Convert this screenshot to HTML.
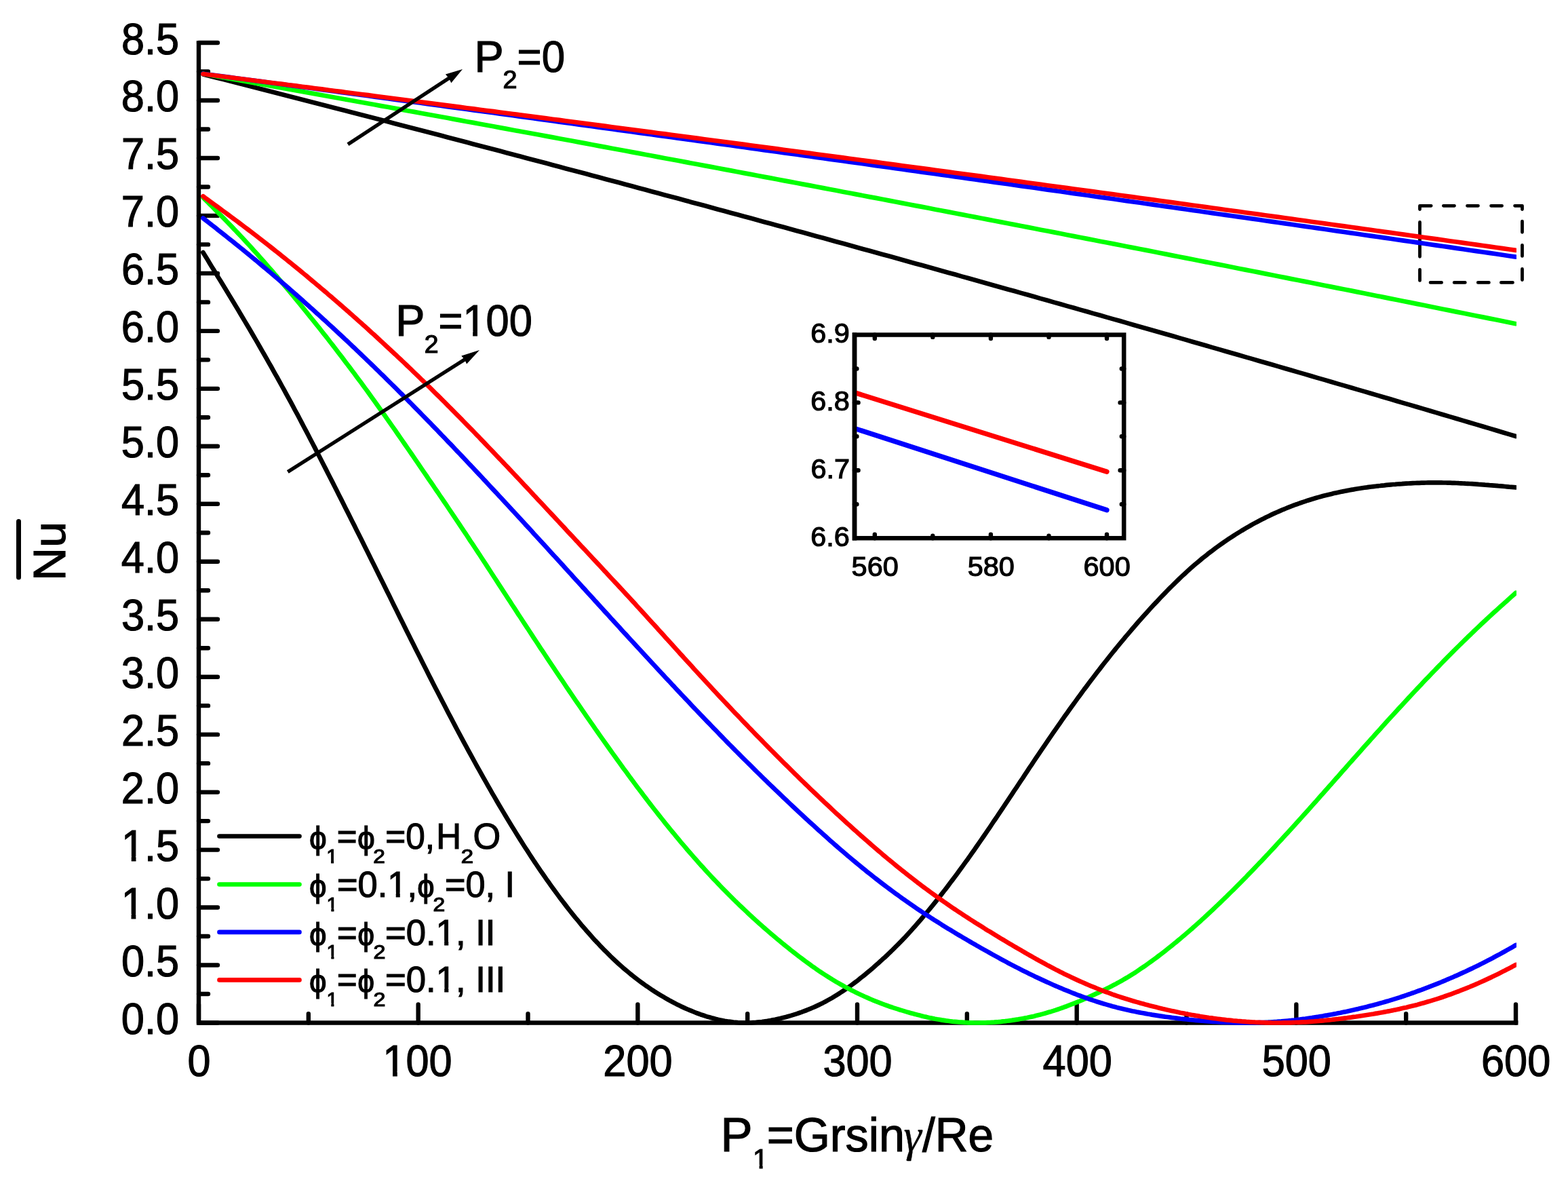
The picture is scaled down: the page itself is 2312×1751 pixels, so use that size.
<!DOCTYPE html>
<html><head><meta charset="utf-8"><title>Nu vs P1</title>
<style>html,body{margin:0;padding:0;background:#fff;overflow:hidden}svg{display:block}text{font-kerning:none}</style></head>
<body><svg width="2312" height="1751" viewBox="0 0 2312 1751">
<rect x="0" y="0" width="2312" height="1751" fill="#fff"/>
<path d="M293.0 1507.50H321 M293.0 1422.53H321 M293.0 1337.56H321 M293.0 1252.59H321 M293.0 1167.62H321 M293.0 1082.65H321 M293.0 997.68H321 M293.0 912.71H321 M293.0 827.74H321 M293.0 742.77H321 M293.0 657.80H321 M293.0 572.83H321 M293.0 487.86H321 M293.0 402.89H321 M293.0 317.92H321 M293.0 232.95H321 M293.0 147.98H321 M293.0 63.01H321 M293.0 1465.02H307 M293.0 1380.05H307 M293.0 1295.08H307 M293.0 1210.11H307 M293.0 1125.13H307 M293.0 1040.16H307 M293.0 955.20H307 M293.0 870.23H307 M293.0 785.25H307 M293.0 700.28H307 M293.0 615.32H307 M293.0 530.35H307 M293.0 445.38H307 M293.0 360.40H307 M293.0 275.43H307 M293.0 190.46H307 M293.0 105.50H307 M293.00 1507.5V1480.4 M616.67 1507.5V1480.4 M940.34 1507.5V1480.4 M1264.01 1507.5V1480.4 M1587.68 1507.5V1480.4 M1911.35 1507.5V1480.4 M2235.02 1507.5V1480.4 M454.84 1507.5V1494.3 M778.50 1507.5V1494.3 M1102.17 1507.5V1494.3 M1425.85 1507.5V1494.3 M1749.51 1507.5V1494.3 M2073.18 1507.5V1494.3" stroke="#000" stroke-width="6.4" stroke-linecap="round" fill="none"/>
<path d="M293.0 63.2V1507.5H2235.22" stroke="#000" stroke-width="6.4" stroke-linecap="square" stroke-linejoin="miter" fill="none"/>
<text transform="translate(178.81,1524.00) scale(0.9472,1)" font-family="'Liberation Sans', Arial, sans-serif" font-size="64.69" stroke="#000" stroke-width="1.2">0.0</text>
<text transform="translate(178.99,1439.03) scale(0.9472,1)" font-family="'Liberation Sans', Arial, sans-serif" font-size="64.69" stroke="#000" stroke-width="1.2">0.5</text>
<clipPath id="c1f1" clipPathUnits="userSpaceOnUse"><path clip-rule="evenodd" d="M-50 -200H139.9V60H-50Z M1.42 -7.03H15.57V4H1.42Z M22.68 -7.03H36.32V4H22.68Z"/></clipPath>
<text transform="translate(178.82,1354.06) scale(0.9472,1)" font-family="'Liberation Sans', Arial, sans-serif" font-size="64.69" stroke="#000" stroke-width="1.2" clip-path="url(#c1f1)">1.0</text>
<clipPath id="c1f2" clipPathUnits="userSpaceOnUse"><path clip-rule="evenodd" d="M-50 -200H139.9V60H-50Z M1.42 -7.03H15.57V4H1.42Z M22.68 -7.03H36.32V4H22.68Z"/></clipPath>
<text transform="translate(179.00,1269.09) scale(0.9472,1)" font-family="'Liberation Sans', Arial, sans-serif" font-size="64.69" stroke="#000" stroke-width="1.2" clip-path="url(#c1f2)">1.5</text>
<text transform="translate(178.81,1184.12) scale(0.9472,1)" font-family="'Liberation Sans', Arial, sans-serif" font-size="64.69" stroke="#000" stroke-width="1.2">2.0</text>
<text transform="translate(178.99,1099.15) scale(0.9472,1)" font-family="'Liberation Sans', Arial, sans-serif" font-size="64.69" stroke="#000" stroke-width="1.2">2.5</text>
<text transform="translate(178.81,1014.18) scale(0.9472,1)" font-family="'Liberation Sans', Arial, sans-serif" font-size="64.69" stroke="#000" stroke-width="1.2">3.0</text>
<text transform="translate(178.99,929.21) scale(0.9472,1)" font-family="'Liberation Sans', Arial, sans-serif" font-size="64.69" stroke="#000" stroke-width="1.2">3.5</text>
<text transform="translate(178.81,844.24) scale(0.9472,1)" font-family="'Liberation Sans', Arial, sans-serif" font-size="64.69" stroke="#000" stroke-width="1.2">4.0</text>
<text transform="translate(178.99,759.27) scale(0.9472,1)" font-family="'Liberation Sans', Arial, sans-serif" font-size="64.69" stroke="#000" stroke-width="1.2">4.5</text>
<text transform="translate(178.81,674.30) scale(0.9472,1)" font-family="'Liberation Sans', Arial, sans-serif" font-size="64.69" stroke="#000" stroke-width="1.2">5.0</text>
<text transform="translate(178.99,589.33) scale(0.9472,1)" font-family="'Liberation Sans', Arial, sans-serif" font-size="64.69" stroke="#000" stroke-width="1.2">5.5</text>
<text transform="translate(178.81,504.36) scale(0.9472,1)" font-family="'Liberation Sans', Arial, sans-serif" font-size="64.69" stroke="#000" stroke-width="1.2">6.0</text>
<text transform="translate(178.99,419.39) scale(0.9472,1)" font-family="'Liberation Sans', Arial, sans-serif" font-size="64.69" stroke="#000" stroke-width="1.2">6.5</text>
<text transform="translate(178.81,334.42) scale(0.9472,1)" font-family="'Liberation Sans', Arial, sans-serif" font-size="64.69" stroke="#000" stroke-width="1.2">7.0</text>
<text transform="translate(178.99,249.45) scale(0.9472,1)" font-family="'Liberation Sans', Arial, sans-serif" font-size="64.69" stroke="#000" stroke-width="1.2">7.5</text>
<text transform="translate(178.81,164.48) scale(0.9472,1)" font-family="'Liberation Sans', Arial, sans-serif" font-size="64.69" stroke="#000" stroke-width="1.2">8.0</text>
<text transform="translate(178.99,79.51) scale(0.9472,1)" font-family="'Liberation Sans', Arial, sans-serif" font-size="64.69" stroke="#000" stroke-width="1.2">8.5</text>
<text transform="translate(276.48,1585.70) scale(0.9459,1)" font-family="'Liberation Sans', Arial, sans-serif" font-size="64.69" stroke="#000" stroke-width="1.2">0</text>
<clipPath id="c1f3" clipPathUnits="userSpaceOnUse"><path clip-rule="evenodd" d="M-50 -200H157.9V60H-50Z M1.42 -7.03H15.57V4H1.42Z M22.68 -7.03H36.32V4H22.68Z"/></clipPath>
<text transform="translate(564.30,1585.70) scale(0.9473,1)" font-family="'Liberation Sans', Arial, sans-serif" font-size="64.69" stroke="#000" stroke-width="1.2" clip-path="url(#c1f3)">100</text>
<text transform="translate(889.37,1585.70) scale(0.9473,1)" font-family="'Liberation Sans', Arial, sans-serif" font-size="64.69" stroke="#000" stroke-width="1.2">200</text>
<text transform="translate(1213.42,1585.70) scale(0.9473,1)" font-family="'Liberation Sans', Arial, sans-serif" font-size="64.69" stroke="#000" stroke-width="1.2">300</text>
<text transform="translate(1537.55,1585.70) scale(0.9473,1)" font-family="'Liberation Sans', Arial, sans-serif" font-size="64.69" stroke="#000" stroke-width="1.2">400</text>
<text transform="translate(1860.70,1585.70) scale(0.9473,1)" font-family="'Liberation Sans', Arial, sans-serif" font-size="64.69" stroke="#000" stroke-width="1.2">500</text>
<text transform="translate(2184.04,1585.70) scale(0.9473,1)" font-family="'Liberation Sans', Arial, sans-serif" font-size="64.69" stroke="#000" stroke-width="1.2">600</text>
<path d="M2093.5 308.5V303.3H2110.2 M2233.6 303.3H2244.5V308.5 M2128.4 303.3H2144.5 M2163.5 303.3H2179.5 M2198.6 303.3H2214.6 M2244.5 326.2V342.3 M2244.5 361.3V377.4 M2244.5 396.4V412.5 M2109.1 416.4H2125.6 M2144.2 416.4H2160.3 M2179.3 416.4H2195.4 M2213.4 416.4H2230.5 M2093.5 397.3V413.4 M2093.5 327.5V378.3" stroke="#000" stroke-width="4.8" stroke-linecap="round" stroke-linejoin="round" fill="none"/>
<defs><clipPath id="pc"><rect x="0" y="0" width="2236" height="1751"/></clipPath></defs>
<g clip-path="url(#pc)" fill="none" stroke-width="6.7" stroke-linecap="round" stroke-linejoin="round">
<polyline points="299.5,109.4 309.2,111.9 319.0,114.4 328.7,116.8 338.4,119.3 348.1,121.8 357.9,124.3 367.6,126.8 377.3,129.2 387.0,131.7 396.8,134.2 406.5,136.7 416.2,139.2 425.9,141.7 435.7,144.2 445.4,146.7 455.1,149.2 464.8,151.7 474.6,154.2 484.3,156.7 494.0,159.2 503.8,161.7 513.5,164.2 523.2,166.7 532.9,169.3 542.7,171.8 552.4,174.3 562.1,176.8 571.8,179.3 581.6,181.9 591.3,184.4 601.0,186.9 610.7,189.5 620.5,192.0 630.2,194.5 639.9,197.1 649.6,199.6 659.4,202.2 669.1,204.7 678.8,207.3 688.5,209.8 698.3,212.4 708.0,214.9 717.7,217.5 727.5,220.1 737.2,222.6 746.9,225.2 756.6,227.8 766.4,230.3 776.1,232.9 785.8,235.5 795.5,238.0 805.3,240.6 815.0,243.2 824.7,245.8 834.4,248.4 844.2,250.9 853.9,253.5 863.6,256.1 873.3,258.7 883.1,261.3 892.8,263.9 902.5,266.5 912.3,269.1 922.0,271.7 931.7,274.3 941.4,276.9 951.2,279.5 960.9,282.2 970.6,284.8 980.3,287.4 990.1,290.0 999.8,292.6 1009.5,295.2 1019.2,297.9 1029.0,300.5 1038.7,303.1 1048.4,305.8 1058.1,308.4 1067.9,311.0 1077.6,313.7 1087.3,316.3 1097.1,318.9 1106.8,321.6 1116.5,324.2 1126.2,326.9 1136.0,329.5 1145.7,332.2 1155.4,334.8 1165.1,337.5 1174.9,340.2 1184.6,342.8 1194.3,345.5 1204.0,348.2 1213.8,350.8 1223.5,353.5 1233.2,356.2 1242.9,358.8 1252.7,361.5 1262.4,364.2 1272.1,366.9 1281.8,369.6 1291.6,372.2 1301.3,374.9 1311.0,377.6 1320.8,380.3 1330.5,383.0 1340.2,385.7 1349.9,388.4 1359.7,391.1 1369.4,393.8 1379.1,396.5 1388.8,399.2 1398.6,401.9 1408.3,404.6 1418.0,407.4 1427.7,410.1 1437.5,412.8 1447.2,415.5 1456.9,418.2 1466.6,421.0 1476.4,423.7 1486.1,426.4 1495.8,429.1 1505.6,431.9 1515.3,434.6 1525.0,437.3 1534.7,440.1 1544.5,442.8 1554.2,445.6 1563.9,448.3 1573.6,451.1 1583.4,453.8 1593.1,456.6 1602.8,459.3 1612.5,462.1 1622.3,464.8 1632.0,467.6 1641.7,470.4 1651.4,473.1 1661.2,475.9 1670.9,478.7 1680.6,481.4 1690.4,484.2 1700.1,487.0 1709.8,489.8 1719.5,492.5 1729.3,495.3 1739.0,498.1 1748.7,500.9 1758.4,503.7 1768.2,506.5 1777.9,509.3 1787.6,512.1 1797.3,514.9 1807.1,517.7 1816.8,520.5 1826.5,523.3 1836.2,526.1 1846.0,528.9 1855.7,531.7 1865.4,534.5 1875.1,537.3 1884.9,540.1 1894.6,543.0 1904.3,545.8 1914.1,548.6 1923.8,551.4 1933.5,554.2 1943.2,557.1 1953.0,559.9 1962.7,562.7 1972.4,565.6 1982.1,568.4 1991.9,571.3 2001.6,574.1 2011.3,576.9 2021.0,579.8 2030.8,582.6 2040.5,585.5 2050.2,588.3 2059.9,591.2 2069.7,594.1 2079.4,596.9 2089.1,599.8 2098.9,602.6 2108.6,605.5 2118.3,608.4 2128.0,611.3 2137.8,614.1 2147.5,617.0 2157.2,619.9 2166.9,622.8 2176.7,625.6 2186.4,628.5 2196.1,631.4 2205.8,634.3 2215.6,637.2 2225.3,640.1 2235.0,643.0" stroke="#000000"/>
<polyline points="299.5,108.7 309.2,110.5 319.0,112.2 328.7,114.0 338.4,115.7 348.1,117.4 357.9,119.2 367.6,120.9 377.3,122.7 387.0,124.4 396.8,126.2 406.5,127.9 416.2,129.7 425.9,131.4 435.7,133.2 445.4,134.9 455.1,136.7 464.8,138.4 474.6,140.2 484.3,142.0 494.0,143.7 503.8,145.5 513.5,147.2 523.2,149.0 532.9,150.8 542.7,152.5 552.4,154.3 562.1,156.1 571.8,157.8 581.6,159.6 591.3,161.4 601.0,163.2 610.7,164.9 620.5,166.7 630.2,168.5 639.9,170.3 649.6,172.0 659.4,173.8 669.1,175.6 678.8,177.4 688.5,179.2 698.3,180.9 708.0,182.7 717.7,184.5 727.5,186.3 737.2,188.1 746.9,189.9 756.6,191.7 766.4,193.5 776.1,195.3 785.8,197.0 795.5,198.8 805.3,200.6 815.0,202.4 824.7,204.2 834.4,206.0 844.2,207.8 853.9,209.6 863.6,211.4 873.3,213.2 883.1,215.1 892.8,216.9 902.5,218.7 912.3,220.5 922.0,222.3 931.7,224.1 941.4,225.9 951.2,227.7 960.9,229.5 970.6,231.4 980.3,233.2 990.1,235.0 999.8,236.8 1009.5,238.6 1019.2,240.5 1029.0,242.3 1038.7,244.1 1048.4,245.9 1058.1,247.8 1067.9,249.6 1077.6,251.4 1087.3,253.2 1097.1,255.1 1106.8,256.9 1116.5,258.7 1126.2,260.6 1136.0,262.4 1145.7,264.2 1155.4,266.1 1165.1,267.9 1174.9,269.8 1184.6,271.6 1194.3,273.4 1204.0,275.3 1213.8,277.1 1223.5,279.0 1233.2,280.8 1242.9,282.7 1252.7,284.5 1262.4,286.4 1272.1,288.2 1281.8,290.1 1291.6,291.9 1301.3,293.8 1311.0,295.6 1320.8,297.5 1330.5,299.4 1340.2,301.2 1349.9,303.1 1359.7,304.9 1369.4,306.8 1379.1,308.7 1388.8,310.5 1398.6,312.4 1408.3,314.3 1418.0,316.1 1427.7,318.0 1437.5,319.9 1447.2,321.8 1456.9,323.6 1466.6,325.5 1476.4,327.4 1486.1,329.3 1495.8,331.1 1505.6,333.0 1515.3,334.9 1525.0,336.8 1534.7,338.7 1544.5,340.5 1554.2,342.4 1563.9,344.3 1573.6,346.2 1583.4,348.1 1593.1,350.0 1602.8,351.9 1612.5,353.8 1622.3,355.7 1632.0,357.5 1641.7,359.4 1651.4,361.3 1661.2,363.2 1670.9,365.1 1680.6,367.0 1690.4,368.9 1700.1,370.8 1709.8,372.7 1719.5,374.6 1729.3,376.6 1739.0,378.5 1748.7,380.4 1758.4,382.3 1768.2,384.2 1777.9,386.1 1787.6,388.0 1797.3,389.9 1807.1,391.8 1816.8,393.8 1826.5,395.7 1836.2,397.6 1846.0,399.5 1855.7,401.4 1865.4,403.4 1875.1,405.3 1884.9,407.2 1894.6,409.1 1904.3,411.1 1914.1,413.0 1923.8,414.9 1933.5,416.8 1943.2,418.8 1953.0,420.7 1962.7,422.6 1972.4,424.6 1982.1,426.5 1991.9,428.4 2001.6,430.4 2011.3,432.3 2021.0,434.3 2030.8,436.2 2040.5,438.1 2050.2,440.1 2059.9,442.0 2069.7,444.0 2079.4,445.9 2089.1,447.9 2098.9,449.8 2108.6,451.8 2118.3,453.7 2128.0,455.7 2137.8,457.6 2147.5,459.6 2157.2,461.5 2166.9,463.5 2176.7,465.5 2186.4,467.4 2196.1,469.4 2205.8,471.3 2215.6,473.3 2225.3,475.3 2235.0,477.2" stroke="#00FF00"/>
<polyline points="299.5,108.7 309.2,110.0 319.0,111.3 328.7,112.6 338.4,113.9 348.1,115.2 357.9,116.5 367.6,117.8 377.3,119.1 387.0,120.4 396.8,121.7 406.5,123.0 416.2,124.3 425.9,125.6 435.7,126.9 445.4,128.2 455.1,129.5 464.8,130.8 474.6,132.1 484.3,133.4 494.0,134.8 503.8,136.1 513.5,137.4 523.2,138.7 532.9,140.0 542.7,141.3 552.4,142.6 562.1,143.9 571.8,145.2 581.6,146.6 591.3,147.9 601.0,149.2 610.7,150.5 620.5,151.8 630.2,153.1 639.9,154.4 649.6,155.8 659.4,157.1 669.1,158.4 678.8,159.7 688.5,161.0 698.3,162.4 708.0,163.7 717.7,165.0 727.5,166.3 737.2,167.7 746.9,169.0 756.6,170.3 766.4,171.6 776.1,173.0 785.8,174.3 795.5,175.6 805.3,176.9 815.0,178.3 824.7,179.6 834.4,180.9 844.2,182.2 853.9,183.6 863.6,184.9 873.3,186.2 883.1,187.6 892.8,188.9 902.5,190.2 912.3,191.6 922.0,192.9 931.7,194.2 941.4,195.6 951.2,196.9 960.9,198.2 970.6,199.6 980.3,200.9 990.1,202.3 999.8,203.6 1009.5,204.9 1019.2,206.3 1029.0,207.6 1038.7,209.0 1048.4,210.3 1058.1,211.6 1067.9,213.0 1077.6,214.3 1087.3,215.7 1097.1,217.0 1106.8,218.4 1116.5,219.7 1126.2,221.1 1136.0,222.4 1145.7,223.8 1155.4,225.1 1165.1,226.5 1174.9,227.8 1184.6,229.2 1194.3,230.5 1204.0,231.9 1213.8,233.2 1223.5,234.6 1233.2,235.9 1242.9,237.3 1252.7,238.6 1262.4,240.0 1272.1,241.3 1281.8,242.7 1291.6,244.1 1301.3,245.4 1311.0,246.8 1320.8,248.1 1330.5,249.5 1340.2,250.9 1349.9,252.2 1359.7,253.6 1369.4,254.9 1379.1,256.3 1388.8,257.7 1398.6,259.0 1408.3,260.4 1418.0,261.8 1427.7,263.1 1437.5,264.5 1447.2,265.9 1456.9,267.2 1466.6,268.6 1476.4,270.0 1486.1,271.3 1495.8,272.7 1505.6,274.1 1515.3,275.4 1525.0,276.8 1534.7,278.2 1544.5,279.6 1554.2,280.9 1563.9,282.3 1573.6,283.7 1583.4,285.1 1593.1,286.4 1602.8,287.8 1612.5,289.2 1622.3,290.6 1632.0,291.9 1641.7,293.3 1651.4,294.7 1661.2,296.1 1670.9,297.5 1680.6,298.8 1690.4,300.2 1700.1,301.6 1709.8,303.0 1719.5,304.4 1729.3,305.8 1739.0,307.1 1748.7,308.5 1758.4,309.9 1768.2,311.3 1777.9,312.7 1787.6,314.1 1797.3,315.5 1807.1,316.9 1816.8,318.2 1826.5,319.6 1836.2,321.0 1846.0,322.4 1855.7,323.8 1865.4,325.2 1875.1,326.6 1884.9,328.0 1894.6,329.4 1904.3,330.8 1914.1,332.2 1923.8,333.6 1933.5,335.0 1943.2,336.4 1953.0,337.8 1962.7,339.2 1972.4,340.6 1982.1,342.0 1991.9,343.4 2001.6,344.8 2011.3,346.2 2021.0,347.6 2030.8,349.0 2040.5,350.4 2050.2,351.8 2059.9,353.2 2069.7,354.6 2079.4,356.0 2089.1,357.4 2098.9,358.8 2108.6,360.2 2118.3,361.6 2128.0,363.0 2137.8,364.4 2147.5,365.9 2157.2,367.3 2166.9,368.7 2176.7,370.1 2186.4,371.5 2196.1,372.9 2205.8,374.3 2215.6,375.7 2225.3,377.2 2235.0,378.6" stroke="#0000FF"/>
<polyline points="299.5,109.0 309.2,110.3 319.0,111.5 328.7,112.7 338.4,114.0 348.1,115.2 357.9,116.5 367.6,117.7 377.3,119.0 387.0,120.2 396.8,121.5 406.5,122.7 416.2,123.9 425.9,125.2 435.7,126.4 445.4,127.7 455.1,128.9 464.8,130.2 474.6,131.4 484.3,132.7 494.0,134.0 503.8,135.2 513.5,136.5 523.2,137.7 532.9,139.0 542.7,140.2 552.4,141.5 562.1,142.7 571.8,144.0 581.6,145.3 591.3,146.5 601.0,147.8 610.7,149.0 620.5,150.3 630.2,151.6 639.9,152.8 649.6,154.1 659.4,155.4 669.1,156.6 678.8,157.9 688.5,159.2 698.3,160.4 708.0,161.7 717.7,163.0 727.5,164.2 737.2,165.5 746.9,166.8 756.6,168.0 766.4,169.3 776.1,170.6 785.8,171.8 795.5,173.1 805.3,174.4 815.0,175.7 824.7,176.9 834.4,178.2 844.2,179.5 853.9,180.8 863.6,182.1 873.3,183.3 883.1,184.6 892.8,185.9 902.5,187.2 912.3,188.5 922.0,189.7 931.7,191.0 941.4,192.3 951.2,193.6 960.9,194.9 970.6,196.2 980.3,197.4 990.1,198.7 999.8,200.0 1009.5,201.3 1019.2,202.6 1029.0,203.9 1038.7,205.2 1048.4,206.5 1058.1,207.8 1067.9,209.0 1077.6,210.3 1087.3,211.6 1097.1,212.9 1106.8,214.2 1116.5,215.5 1126.2,216.8 1136.0,218.1 1145.7,219.4 1155.4,220.7 1165.1,222.0 1174.9,223.3 1184.6,224.6 1194.3,225.9 1204.0,227.2 1213.8,228.5 1223.5,229.8 1233.2,231.1 1242.9,232.4 1252.7,233.7 1262.4,235.0 1272.1,236.3 1281.8,237.6 1291.6,238.9 1301.3,240.2 1311.0,241.6 1320.8,242.9 1330.5,244.2 1340.2,245.5 1349.9,246.8 1359.7,248.1 1369.4,249.4 1379.1,250.7 1388.8,252.0 1398.6,253.4 1408.3,254.7 1418.0,256.0 1427.7,257.3 1437.5,258.6 1447.2,259.9 1456.9,261.3 1466.6,262.6 1476.4,263.9 1486.1,265.2 1495.8,266.5 1505.6,267.9 1515.3,269.2 1525.0,270.5 1534.7,271.8 1544.5,273.2 1554.2,274.5 1563.9,275.8 1573.6,277.1 1583.4,278.5 1593.1,279.8 1602.8,281.1 1612.5,282.4 1622.3,283.8 1632.0,285.1 1641.7,286.4 1651.4,287.8 1661.2,289.1 1670.9,290.4 1680.6,291.8 1690.4,293.1 1700.1,294.4 1709.8,295.8 1719.5,297.1 1729.3,298.4 1739.0,299.8 1748.7,301.1 1758.4,302.5 1768.2,303.8 1777.9,305.1 1787.6,306.5 1797.3,307.8 1807.1,309.2 1816.8,310.5 1826.5,311.8 1836.2,313.2 1846.0,314.5 1855.7,315.9 1865.4,317.2 1875.1,318.6 1884.9,319.9 1894.6,321.3 1904.3,322.6 1914.1,324.0 1923.8,325.3 1933.5,326.7 1943.2,328.0 1953.0,329.4 1962.7,330.7 1972.4,332.1 1982.1,333.4 1991.9,334.8 2001.6,336.1 2011.3,337.5 2021.0,338.8 2030.8,340.2 2040.5,341.6 2050.2,342.9 2059.9,344.3 2069.7,345.6 2079.4,347.0 2089.1,348.4 2098.9,349.7 2108.6,351.1 2118.3,352.4 2128.0,353.8 2137.8,355.2 2147.5,356.5 2157.2,357.9 2166.9,359.3 2176.7,360.6 2186.4,362.0 2196.1,363.4 2205.8,364.7 2215.6,366.1 2225.3,367.5 2235.0,368.9" stroke="#FF0000"/>
<polyline points="299.4,372.1 302.6,377.3 305.9,382.6 309.1,387.9 312.3,393.2 315.6,398.4 318.8,403.7 322.0,409.0 325.3,414.2 328.5,419.5 331.7,424.8 334.9,430.1 338.2,435.4 341.4,440.8 344.6,446.1 347.9,451.5 351.1,456.8 354.3,462.2 357.6,467.7 360.8,473.1 364.0,478.5 367.3,484.0 370.5,489.5 373.7,495.0 377.0,500.6 380.2,506.2 383.4,511.7 386.6,517.4 389.9,523.0 393.1,528.7 396.3,534.3 399.6,540.0 402.8,545.8 406.0,551.6 409.3,557.3 412.5,563.2 415.7,569.0 419.0,574.9 422.2,580.8 425.4,586.7 428.7,592.7 431.9,598.6 435.1,604.7 438.4,610.7 441.6,616.8 444.8,622.9 448.0,629.0 451.3,635.1 454.5,641.3 457.7,647.5 461.0,653.7 464.2,659.9 467.4,666.2 470.7,672.5 473.9,678.7 477.1,685.0 480.4,691.4 483.6,697.7 486.8,704.0 490.1,710.4 493.3,716.7 496.5,723.1 499.7,729.5 503.0,735.9 506.2,742.3 509.4,748.7 512.7,755.1 515.9,761.5 519.1,768.0 522.4,774.4 525.6,780.9 528.8,787.3 532.1,793.8 535.3,800.3 538.5,806.7 541.8,813.2 545.0,819.7 548.2,826.2 551.5,832.7 554.7,839.2 557.9,845.8 561.1,852.3 564.4,858.8 567.6,865.3 570.8,871.8 574.1,878.3 577.3,884.9 580.5,891.4 583.8,897.9 587.0,904.4 590.2,910.9 593.5,917.4 596.7,923.9 599.9,930.4 603.2,936.9 606.4,943.4 609.6,949.8 612.8,956.3 616.1,962.7 619.3,969.1 622.5,975.6 625.8,982.0 629.0,988.3 632.2,994.7 635.5,1001.1 638.7,1007.4 641.9,1013.7 645.2,1020.0 648.4,1026.3 651.6,1032.5 654.9,1038.8 658.1,1045.0 661.3,1051.2 664.6,1057.3 667.8,1063.5 671.0,1069.6 674.2,1075.7 677.5,1081.8 680.7,1087.8 683.9,1093.8 687.2,1099.8 690.4,1105.8 693.6,1111.7 696.9,1117.6 700.1,1123.5 703.3,1129.3 706.6,1135.1 709.8,1140.9 713.0,1146.7 716.3,1152.4 719.5,1158.1 722.7,1163.7 725.9,1169.3 729.2,1174.9 732.4,1180.5 735.6,1186.0 738.9,1191.5 742.1,1196.9 745.3,1202.3 748.6,1207.7 751.8,1213.0 755.0,1218.3 758.3,1223.6 761.5,1228.8 764.7,1233.9 768.0,1239.1 771.2,1244.2 774.4,1249.2 777.7,1254.2 780.9,1259.2 784.1,1264.1 787.3,1269.0 790.6,1273.8 793.8,1278.6 797.0,1283.3 800.3,1288.0 803.5,1292.7 806.7,1297.3 810.0,1301.8 813.2,1306.4 816.4,1310.8 819.7,1315.2 822.9,1319.6 826.1,1323.9 829.4,1328.2 832.6,1332.4 835.8,1336.6 839.0,1340.7 842.3,1344.8 845.5,1348.8 848.7,1352.8 852.0,1356.7 855.2,1360.6 858.4,1364.5 861.7,1368.2 864.9,1372.0 868.1,1375.6 871.4,1379.3 874.6,1382.9 877.8,1386.4 881.1,1389.8 884.3,1393.3 887.5,1396.6 890.7,1400.0 894.0,1403.2 897.2,1406.4 900.4,1409.6 903.7,1412.7 906.9,1415.7 910.1,1418.7 913.4,1421.7 916.6,1424.5 919.8,1427.4 923.1,1430.1 926.3,1432.8 929.5,1435.5 932.8,1438.1 936.0,1440.6 939.2,1443.1 942.5,1445.6 945.7,1448.0 948.9,1450.3 952.1,1452.6 955.4,1454.8 958.6,1457.0 961.8,1459.2 965.1,1461.3 968.3,1463.3 971.5,1465.3 974.8,1467.3 978.0,1469.2 981.2,1471.1 984.5,1473.0 987.7,1474.8 990.9,1476.5 994.2,1478.2 997.4,1479.9 1000.6,1481.5 1003.8,1483.1 1007.1,1484.6 1010.3,1486.1 1013.5,1487.5 1016.8,1488.9 1020.0,1490.2 1023.2,1491.5 1026.5,1492.8 1029.7,1494.0 1032.9,1495.2 1036.2,1496.3 1039.4,1497.3 1042.6,1498.4 1045.9,1499.3 1049.1,1500.3 1052.3,1501.1 1055.6,1501.9 1058.8,1502.7 1062.0,1503.4 1065.2,1504.1 1068.5,1504.7 1071.7,1505.2 1074.9,1505.7 1078.2,1506.1 1081.4,1506.5 1084.6,1506.8 1087.9,1507.1 1091.1,1507.3 1094.3,1507.4 1097.6,1507.5 1100.8,1507.5 1104.0,1507.5 1107.3,1507.4 1110.5,1507.2 1113.7,1507.0 1116.9,1506.7 1120.2,1506.4 1123.4,1506.1 1126.6,1505.6 1129.9,1505.2 1133.1,1504.6 1136.3,1504.1 1139.6,1503.4 1142.8,1502.8 1146.0,1502.1 1149.3,1501.4 1152.5,1500.6 1155.7,1499.8 1159.0,1498.9 1162.2,1498.0 1165.4,1497.1 1168.7,1496.1 1171.9,1495.1 1175.1,1494.1 1178.3,1493.0 1181.6,1491.9 1184.8,1490.7 1188.0,1489.5 1191.3,1488.2 1194.5,1486.9 1197.7,1485.5 1201.0,1484.1 1204.2,1482.6 1207.4,1481.1 1210.7,1479.5 1213.9,1477.9 1217.1,1476.2 1220.4,1474.4 1223.6,1472.6 1226.8,1470.8 1230.0,1468.9 1233.3,1466.9 1236.5,1464.9 1239.7,1462.8 1243.0,1460.6 1246.2,1458.5 1249.4,1456.2 1252.7,1453.9 1255.9,1451.6 1259.1,1449.2 1262.4,1446.8 1265.6,1444.3 1268.8,1441.7 1272.1,1439.2 1275.3,1436.6 1278.5,1433.9 1281.8,1431.2 1285.0,1428.4 1288.2,1425.7 1291.4,1422.8 1294.7,1420.0 1297.9,1417.1 1301.1,1414.1 1304.4,1411.2 1307.6,1408.2 1310.8,1405.1 1314.1,1402.0 1317.3,1398.8 1320.5,1395.6 1323.8,1392.4 1327.0,1389.1 1330.2,1385.8 1333.5,1382.4 1336.7,1378.9 1339.9,1375.4 1343.1,1371.9 1346.4,1368.3 1349.6,1364.7 1352.8,1361.0 1356.1,1357.3 1359.3,1353.5 1362.5,1349.7 1365.8,1345.9 1369.0,1342.0 1372.2,1338.1 1375.5,1334.1 1378.7,1330.1 1381.9,1326.1 1385.2,1322.0 1388.4,1317.9 1391.6,1313.8 1394.9,1309.6 1398.1,1305.4 1401.3,1301.1 1404.5,1296.9 1407.8,1292.5 1411.0,1288.2 1414.2,1283.8 1417.5,1279.3 1420.7,1274.9 1423.9,1270.4 1427.2,1265.9 1430.4,1261.3 1433.6,1256.8 1436.9,1252.2 1440.1,1247.5 1443.3,1242.9 1446.6,1238.2 1449.8,1233.5 1453.0,1228.8 1456.2,1224.1 1459.5,1219.3 1462.7,1214.5 1465.9,1209.7 1469.2,1205.0 1472.4,1200.1 1475.6,1195.3 1478.9,1190.5 1482.1,1185.6 1485.3,1180.8 1488.6,1175.9 1491.8,1171.1 1495.0,1166.2 1498.3,1161.4 1501.5,1156.5 1504.7,1151.6 1508.0,1146.8 1511.2,1141.9 1514.4,1137.1 1517.6,1132.2 1520.9,1127.4 1524.1,1122.5 1527.3,1117.7 1530.6,1112.9 1533.8,1108.1 1537.0,1103.4 1540.3,1098.6 1543.5,1093.9 1546.7,1089.1 1550.0,1084.4 1553.2,1079.7 1556.4,1075.1 1559.7,1070.4 1562.9,1065.8 1566.1,1061.2 1569.3,1056.6 1572.6,1052.1 1575.8,1047.5 1579.0,1043.0 1582.3,1038.5 1585.5,1034.1 1588.7,1029.6 1592.0,1025.2 1595.2,1020.8 1598.4,1016.4 1601.7,1012.1 1604.9,1007.8 1608.1,1003.5 1611.4,999.2 1614.6,995.0 1617.8,990.8 1621.1,986.6 1624.3,982.4 1627.5,978.3 1630.7,974.2 1634.0,970.1 1637.2,966.0 1640.4,962.0 1643.7,958.0 1646.9,954.0 1650.1,950.1 1653.4,946.2 1656.6,942.3 1659.8,938.4 1663.1,934.6 1666.3,930.8 1669.5,927.0 1672.8,923.2 1676.0,919.5 1679.2,915.8 1682.4,912.2 1685.7,908.5 1688.9,904.9 1692.1,901.4 1695.4,897.8 1698.6,894.3 1701.8,890.8 1705.1,887.4 1708.3,883.9 1711.5,880.5 1714.8,877.1 1718.0,873.8 1721.2,870.5 1724.5,867.2 1727.7,864.0 1730.9,860.8 1734.2,857.6 1737.4,854.5 1740.6,851.4 1743.8,848.4 1747.1,845.4 1750.3,842.4 1753.5,839.5 1756.8,836.6 1760.0,833.8 1763.2,831.0 1766.5,828.3 1769.7,825.6 1772.9,822.9 1776.2,820.3 1779.4,817.8 1782.6,815.2 1785.9,812.8 1789.1,810.3 1792.3,807.9 1795.5,805.6 1798.8,803.3 1802.0,801.0 1805.2,798.7 1808.5,796.5 1811.7,794.3 1814.9,792.2 1818.2,790.1 1821.4,788.0 1824.6,786.0 1827.9,784.0 1831.1,782.0 1834.3,780.1 1837.6,778.2 1840.8,776.3 1844.0,774.5 1847.2,772.7 1850.5,770.9 1853.7,769.2 1856.9,767.5 1860.2,765.8 1863.4,764.2 1866.6,762.5 1869.9,761.0 1873.1,759.4 1876.3,757.9 1879.6,756.4 1882.8,755.0 1886.0,753.6 1889.3,752.2 1892.5,750.8 1895.7,749.5 1899.0,748.2 1902.2,746.9 1905.4,745.7 1908.6,744.4 1911.9,743.3 1915.1,742.1 1918.3,741.0 1921.6,739.9 1924.8,738.8 1928.0,737.7 1931.3,736.7 1934.5,735.7 1937.7,734.8 1941.0,733.8 1944.2,732.9 1947.4,732.0 1950.7,731.1 1953.9,730.3 1957.1,729.5 1960.3,728.7 1963.6,727.9 1966.8,727.1 1970.0,726.4 1973.3,725.7 1976.5,725.0 1979.7,724.4 1983.0,723.7 1986.2,723.1 1989.4,722.5 1992.7,721.9 1995.9,721.4 1999.1,720.8 2002.4,720.3 2005.6,719.8 2008.8,719.3 2012.1,718.8 2015.3,718.4 2018.5,717.9 2021.7,717.5 2025.0,717.1 2028.2,716.7 2031.4,716.3 2034.7,716.0 2037.9,715.6 2041.1,715.3 2044.4,714.9 2047.6,714.6 2050.8,714.3 2054.1,714.0 2057.3,713.8 2060.5,713.5 2063.8,713.3 2067.0,713.1 2070.2,712.8 2073.4,712.6 2076.7,712.5 2079.9,712.3 2083.1,712.1 2086.4,712.0 2089.6,711.9 2092.8,711.8 2096.1,711.7 2099.3,711.6 2102.5,711.5 2105.8,711.4 2109.0,711.4 2112.2,711.4 2115.5,711.4 2118.7,711.4 2121.9,711.4 2125.2,711.4 2128.4,711.5 2131.6,711.5 2134.8,711.6 2138.1,711.7 2141.3,711.8 2144.5,711.9 2147.8,712.0 2151.0,712.2 2154.2,712.3 2157.5,712.5 2160.7,712.7 2163.9,712.8 2167.2,713.0 2170.4,713.2 2173.6,713.4 2176.9,713.6 2180.1,713.9 2183.3,714.1 2186.5,714.3 2189.8,714.6 2193.0,714.8 2196.2,715.1 2199.5,715.3 2202.7,715.6 2205.9,715.9 2209.2,716.2 2212.4,716.4 2215.6,716.7 2218.9,717.0 2222.1,717.3 2225.3,717.6 2228.6,717.8 2231.8,718.1 2235.0,718.4" stroke="#000000"/>
<polyline points="299.4,291.0 302.6,294.3 305.9,297.5 309.1,300.8 312.3,304.0 315.6,307.3 318.8,310.6 322.0,313.8 325.3,317.1 328.5,320.4 331.7,323.7 334.9,327.0 338.2,330.4 341.4,333.7 344.6,337.1 347.9,340.5 351.1,343.9 354.3,347.3 357.6,350.8 360.8,354.3 364.0,357.8 367.3,361.3 370.5,364.8 373.7,368.4 377.0,372.0 380.2,375.6 383.4,379.2 386.6,382.8 389.9,386.5 393.1,390.2 396.3,393.9 399.6,397.6 402.8,401.3 406.0,405.1 409.3,408.8 412.5,412.6 415.7,416.4 419.0,420.3 422.2,424.1 425.4,427.9 428.7,431.8 431.9,435.7 435.1,439.6 438.4,443.5 441.6,447.4 444.8,451.4 448.0,455.3 451.3,459.3 454.5,463.3 457.7,467.3 461.0,471.3 464.2,475.3 467.4,479.4 470.7,483.4 473.9,487.5 477.1,491.6 480.4,495.7 483.6,499.8 486.8,504.0 490.1,508.1 493.3,512.3 496.5,516.5 499.7,520.7 503.0,524.9 506.2,529.1 509.4,533.4 512.7,537.7 515.9,541.9 519.1,546.2 522.4,550.6 525.6,554.9 528.8,559.2 532.1,563.6 535.3,568.0 538.5,572.4 541.8,576.8 545.0,581.3 548.2,585.7 551.5,590.2 554.7,594.7 557.9,599.2 561.1,603.7 564.4,608.3 567.6,612.8 570.8,617.4 574.1,622.0 577.3,626.6 580.5,631.2 583.8,635.8 587.0,640.5 590.2,645.1 593.5,649.8 596.7,654.5 599.9,659.1 603.2,663.8 606.4,668.5 609.6,673.2 612.8,677.9 616.1,682.6 619.3,687.4 622.5,692.1 625.8,696.8 629.0,701.5 632.2,706.3 635.5,711.0 638.7,715.7 641.9,720.5 645.2,725.2 648.4,730.0 651.6,734.7 654.9,739.5 658.1,744.2 661.3,749.0 664.6,753.8 667.8,758.6 671.0,763.4 674.2,768.2 677.5,773.0 680.7,777.8 683.9,782.7 687.2,787.5 690.4,792.4 693.6,797.3 696.9,802.1 700.1,807.0 703.3,811.9 706.6,816.8 709.8,821.8 713.0,826.7 716.3,831.6 719.5,836.6 722.7,841.5 725.9,846.5 729.2,851.5 732.4,856.4 735.6,861.4 738.9,866.4 742.1,871.3 745.3,876.3 748.6,881.3 751.8,886.2 755.0,891.2 758.3,896.2 761.5,901.1 764.7,906.1 768.0,911.0 771.2,916.0 774.4,920.9 777.7,925.8 780.9,930.8 784.1,935.7 787.3,940.6 790.6,945.5 793.8,950.4 797.0,955.3 800.3,960.2 803.5,965.0 806.7,969.9 810.0,974.8 813.2,979.6 816.4,984.4 819.7,989.3 822.9,994.1 826.1,998.9 829.4,1003.7 832.6,1008.5 835.8,1013.3 839.0,1018.0 842.3,1022.8 845.5,1027.6 848.7,1032.3 852.0,1037.0 855.2,1041.7 858.4,1046.4 861.7,1051.1 864.9,1055.8 868.1,1060.4 871.4,1065.1 874.6,1069.7 877.8,1074.4 881.1,1079.0 884.3,1083.6 887.5,1088.1 890.7,1092.7 894.0,1097.3 897.2,1101.8 900.4,1106.3 903.7,1110.9 906.9,1115.3 910.1,1119.8 913.4,1124.3 916.6,1128.7 919.8,1133.2 923.1,1137.6 926.3,1142.0 929.5,1146.4 932.8,1150.7 936.0,1155.1 939.2,1159.4 942.5,1163.7 945.7,1167.9 948.9,1172.2 952.1,1176.4 955.4,1180.7 958.6,1184.9 961.8,1189.0 965.1,1193.2 968.3,1197.3 971.5,1201.4 974.8,1205.5 978.0,1209.5 981.2,1213.6 984.5,1217.6 987.7,1221.5 990.9,1225.5 994.2,1229.4 997.4,1233.3 1000.6,1237.2 1003.8,1241.1 1007.1,1244.9 1010.3,1248.7 1013.5,1252.5 1016.8,1256.2 1020.0,1259.9 1023.2,1263.6 1026.5,1267.3 1029.7,1270.9 1032.9,1274.6 1036.2,1278.1 1039.4,1281.7 1042.6,1285.2 1045.9,1288.7 1049.1,1292.2 1052.3,1295.6 1055.6,1299.0 1058.8,1302.4 1062.0,1305.8 1065.2,1309.1 1068.5,1312.4 1071.7,1315.7 1074.9,1318.9 1078.2,1322.1 1081.4,1325.3 1084.6,1328.5 1087.9,1331.6 1091.1,1334.8 1094.3,1337.8 1097.6,1340.9 1100.8,1343.9 1104.0,1347.0 1107.3,1350.0 1110.5,1352.9 1113.7,1355.9 1116.9,1358.8 1120.2,1361.7 1123.4,1364.5 1126.6,1367.4 1129.9,1370.2 1133.1,1373.0 1136.3,1375.8 1139.6,1378.5 1142.8,1381.3 1146.0,1384.0 1149.3,1386.7 1152.5,1389.3 1155.7,1392.0 1159.0,1394.6 1162.2,1397.2 1165.4,1399.8 1168.7,1402.3 1171.9,1404.9 1175.1,1407.4 1178.3,1409.9 1181.6,1412.3 1184.8,1414.7 1188.0,1417.1 1191.3,1419.5 1194.5,1421.8 1197.7,1424.2 1201.0,1426.4 1204.2,1428.7 1207.4,1430.9 1210.7,1433.1 1213.9,1435.2 1217.1,1437.3 1220.4,1439.4 1223.6,1441.4 1226.8,1443.4 1230.0,1445.3 1233.3,1447.3 1236.5,1449.1 1239.7,1451.0 1243.0,1452.8 1246.2,1454.6 1249.4,1456.3 1252.7,1458.0 1255.9,1459.7 1259.1,1461.3 1262.4,1462.9 1265.6,1464.5 1268.8,1466.0 1272.1,1467.5 1275.3,1469.0 1278.5,1470.4 1281.8,1471.8 1285.0,1473.2 1288.2,1474.6 1291.4,1475.9 1294.7,1477.2 1297.9,1478.4 1301.1,1479.7 1304.4,1480.9 1307.6,1482.0 1310.8,1483.2 1314.1,1484.3 1317.3,1485.4 1320.5,1486.4 1323.8,1487.4 1327.0,1488.5 1330.2,1489.4 1333.5,1490.4 1336.7,1491.4 1339.9,1492.3 1343.1,1493.2 1346.4,1494.1 1349.6,1494.9 1352.8,1495.8 1356.1,1496.6 1359.3,1497.4 1362.5,1498.2 1365.8,1498.9 1369.0,1499.7 1372.2,1500.4 1375.5,1501.0 1378.7,1501.7 1381.9,1502.3 1385.2,1502.8 1388.4,1503.4 1391.6,1503.9 1394.9,1504.4 1398.1,1504.8 1401.3,1505.2 1404.5,1505.6 1407.8,1505.9 1411.0,1506.2 1414.2,1506.5 1417.5,1506.7 1420.7,1506.9 1423.9,1507.1 1427.2,1507.3 1430.4,1507.4 1433.6,1507.4 1436.9,1507.5 1440.1,1507.5 1443.3,1507.5 1446.6,1507.4 1449.8,1507.4 1453.0,1507.3 1456.2,1507.1 1459.5,1507.0 1462.7,1506.8 1465.9,1506.6 1469.2,1506.3 1472.4,1506.1 1475.6,1505.8 1478.9,1505.4 1482.1,1505.1 1485.3,1504.7 1488.6,1504.3 1491.8,1503.9 1495.0,1503.4 1498.3,1502.9 1501.5,1502.4 1504.7,1501.8 1508.0,1501.2 1511.2,1500.6 1514.4,1500.0 1517.6,1499.3 1520.9,1498.6 1524.1,1497.9 1527.3,1497.1 1530.6,1496.3 1533.8,1495.5 1537.0,1494.6 1540.3,1493.7 1543.5,1492.8 1546.7,1491.8 1550.0,1490.9 1553.2,1489.9 1556.4,1488.8 1559.7,1487.7 1562.9,1486.6 1566.1,1485.5 1569.3,1484.3 1572.6,1483.2 1575.8,1481.9 1579.0,1480.7 1582.3,1479.4 1585.5,1478.1 1588.7,1476.8 1592.0,1475.5 1595.2,1474.1 1598.4,1472.7 1601.7,1471.3 1604.9,1469.9 1608.1,1468.4 1611.4,1466.9 1614.6,1465.4 1617.8,1463.9 1621.1,1462.4 1624.3,1460.8 1627.5,1459.3 1630.7,1457.7 1634.0,1456.1 1637.2,1454.4 1640.4,1452.8 1643.7,1451.1 1646.9,1449.3 1650.1,1447.6 1653.4,1445.8 1656.6,1443.9 1659.8,1442.0 1663.1,1440.1 1666.3,1438.1 1669.5,1436.1 1672.8,1434.1 1676.0,1432.0 1679.2,1429.8 1682.4,1427.6 1685.7,1425.4 1688.9,1423.2 1692.1,1420.9 1695.4,1418.6 1698.6,1416.3 1701.8,1413.9 1705.1,1411.5 1708.3,1409.0 1711.5,1406.6 1714.8,1404.1 1718.0,1401.6 1721.2,1399.0 1724.5,1396.4 1727.7,1393.9 1730.9,1391.2 1734.2,1388.6 1737.4,1385.9 1740.6,1383.2 1743.8,1380.5 1747.1,1377.7 1750.3,1375.0 1753.5,1372.2 1756.8,1369.4 1760.0,1366.5 1763.2,1363.7 1766.5,1360.8 1769.7,1357.9 1772.9,1354.9 1776.2,1352.0 1779.4,1349.0 1782.6,1346.0 1785.9,1343.0 1789.1,1340.0 1792.3,1336.9 1795.5,1333.9 1798.8,1330.8 1802.0,1327.7 1805.2,1324.5 1808.5,1321.4 1811.7,1318.2 1814.9,1315.0 1818.2,1311.8 1821.4,1308.6 1824.6,1305.4 1827.9,1302.1 1831.1,1298.8 1834.3,1295.6 1837.6,1292.3 1840.8,1288.9 1844.0,1285.6 1847.2,1282.3 1850.5,1278.9 1853.7,1275.5 1856.9,1272.2 1860.2,1268.8 1863.4,1265.4 1866.6,1261.9 1869.9,1258.5 1873.1,1255.0 1876.3,1251.6 1879.6,1248.1 1882.8,1244.6 1886.0,1241.1 1889.3,1237.6 1892.5,1234.1 1895.7,1230.6 1899.0,1227.1 1902.2,1223.5 1905.4,1220.0 1908.6,1216.4 1911.9,1212.8 1915.1,1209.2 1918.3,1205.7 1921.6,1202.1 1924.8,1198.5 1928.0,1194.9 1931.3,1191.3 1934.5,1187.6 1937.7,1184.0 1941.0,1180.4 1944.2,1176.7 1947.4,1173.1 1950.7,1169.5 1953.9,1165.8 1957.1,1162.2 1960.3,1158.5 1963.6,1154.9 1966.8,1151.2 1970.0,1147.6 1973.3,1143.9 1976.5,1140.2 1979.7,1136.6 1983.0,1132.9 1986.2,1129.3 1989.4,1125.6 1992.7,1122.0 1995.9,1118.3 1999.1,1114.7 2002.4,1111.0 2005.6,1107.4 2008.8,1103.8 2012.1,1100.1 2015.3,1096.5 2018.5,1092.9 2021.7,1089.3 2025.0,1085.7 2028.2,1082.1 2031.4,1078.5 2034.7,1074.9 2037.9,1071.3 2041.1,1067.7 2044.4,1064.1 2047.6,1060.6 2050.8,1057.0 2054.1,1053.5 2057.3,1050.0 2060.5,1046.4 2063.8,1042.9 2067.0,1039.4 2070.2,1035.9 2073.4,1032.4 2076.7,1028.9 2079.9,1025.5 2083.1,1022.0 2086.4,1018.5 2089.6,1015.1 2092.8,1011.7 2096.1,1008.3 2099.3,1004.8 2102.5,1001.4 2105.8,998.1 2109.0,994.7 2112.2,991.3 2115.5,988.0 2118.7,984.6 2121.9,981.3 2125.2,978.0 2128.4,974.7 2131.6,971.4 2134.8,968.2 2138.1,964.9 2141.3,961.7 2144.5,958.4 2147.8,955.2 2151.0,952.0 2154.2,948.8 2157.5,945.6 2160.7,942.5 2163.9,939.3 2167.2,936.2 2170.4,933.1 2173.6,930.0 2176.9,926.9 2180.1,923.8 2183.3,920.8 2186.5,917.8 2189.8,914.7 2193.0,911.7 2196.2,908.8 2199.5,905.8 2202.7,902.8 2205.9,899.9 2209.2,897.0 2212.4,894.1 2215.6,891.2 2218.9,888.3 2222.1,885.4 2225.3,882.5 2228.6,879.6 2231.8,876.7 2235.0,873.8" stroke="#00FF00"/>
<polyline points="299.4,321.5 302.6,324.0 305.9,326.6 309.1,329.1 312.3,331.7 315.6,334.2 318.8,336.7 322.0,339.3 325.3,341.8 328.5,344.4 331.7,346.9 334.9,349.5 338.2,352.1 341.4,354.6 344.6,357.2 347.9,359.8 351.1,362.4 354.3,365.0 357.6,367.6 360.8,370.3 364.0,372.9 367.3,375.5 370.5,378.2 373.7,380.9 377.0,383.5 380.2,386.2 383.4,388.9 386.6,391.6 389.9,394.3 393.1,397.0 396.3,399.7 399.6,402.5 402.8,405.2 406.0,408.0 409.3,410.7 412.5,413.5 415.7,416.3 419.0,419.0 422.2,421.8 425.4,424.6 428.7,427.5 431.9,430.3 435.1,433.1 438.4,435.9 441.6,438.8 444.8,441.6 448.0,444.5 451.3,447.4 454.5,450.3 457.7,453.2 461.0,456.1 464.2,459.0 467.4,461.9 470.7,464.8 473.9,467.7 477.1,470.7 480.4,473.6 483.6,476.6 486.8,479.6 490.1,482.5 493.3,485.5 496.5,488.5 499.7,491.5 503.0,494.5 506.2,497.5 509.4,500.6 512.7,503.6 515.9,506.6 519.1,509.7 522.4,512.7 525.6,515.8 528.8,518.9 532.1,522.0 535.3,525.1 538.5,528.1 541.8,531.3 545.0,534.4 548.2,537.5 551.5,540.6 554.7,543.8 557.9,546.9 561.1,550.1 564.4,553.2 567.6,556.4 570.8,559.6 574.1,562.8 577.3,566.0 580.5,569.2 583.8,572.4 587.0,575.6 590.2,578.8 593.5,582.0 596.7,585.3 599.9,588.5 603.2,591.8 606.4,595.0 609.6,598.3 612.8,601.6 616.1,604.9 619.3,608.2 622.5,611.5 625.8,614.8 629.0,618.1 632.2,621.4 635.5,624.7 638.7,628.1 641.9,631.4 645.2,634.7 648.4,638.1 651.6,641.5 654.9,644.8 658.1,648.2 661.3,651.6 664.6,654.9 667.8,658.3 671.0,661.7 674.2,665.1 677.5,668.5 680.7,671.9 683.9,675.3 687.2,678.8 690.4,682.2 693.6,685.6 696.9,689.0 700.1,692.5 703.3,695.9 706.6,699.4 709.8,702.8 713.0,706.3 716.3,709.7 719.5,713.2 722.7,716.7 725.9,720.1 729.2,723.6 732.4,727.1 735.6,730.6 738.9,734.0 742.1,737.5 745.3,741.0 748.6,744.5 751.8,748.0 755.0,751.5 758.3,755.0 761.5,758.5 764.7,762.0 768.0,765.5 771.2,769.0 774.4,772.6 777.7,776.1 780.9,779.6 784.1,783.1 787.3,786.7 790.6,790.2 793.8,793.7 797.0,797.2 800.3,800.8 803.5,804.3 806.7,807.8 810.0,811.4 813.2,814.9 816.4,818.5 819.7,822.0 822.9,825.6 826.1,829.1 829.4,832.6 832.6,836.2 835.8,839.7 839.0,843.3 842.3,846.8 845.5,850.4 848.7,853.9 852.0,857.5 855.2,861.0 858.4,864.6 861.7,868.1 864.9,871.7 868.1,875.2 871.4,878.8 874.6,882.3 877.8,885.9 881.1,889.4 884.3,893.0 887.5,896.5 890.7,900.1 894.0,903.6 897.2,907.1 900.4,910.7 903.7,914.2 906.9,917.8 910.1,921.3 913.4,924.8 916.6,928.4 919.8,931.9 923.1,935.4 926.3,938.9 929.5,942.5 932.8,946.0 936.0,949.5 939.2,953.0 942.5,956.5 945.7,960.0 948.9,963.5 952.1,967.0 955.4,970.5 958.6,974.0 961.8,977.5 965.1,981.0 968.3,984.5 971.5,988.0 974.8,991.5 978.0,994.9 981.2,998.4 984.5,1001.9 987.7,1005.3 990.9,1008.8 994.2,1012.2 997.4,1015.7 1000.6,1019.1 1003.8,1022.6 1007.1,1026.0 1010.3,1029.4 1013.5,1032.8 1016.8,1036.2 1020.0,1039.7 1023.2,1043.1 1026.5,1046.5 1029.7,1049.8 1032.9,1053.2 1036.2,1056.6 1039.4,1060.0 1042.6,1063.3 1045.9,1066.7 1049.1,1070.0 1052.3,1073.4 1055.6,1076.7 1058.8,1080.0 1062.0,1083.4 1065.2,1086.7 1068.5,1090.0 1071.7,1093.3 1074.9,1096.6 1078.2,1099.8 1081.4,1103.1 1084.6,1106.4 1087.9,1109.6 1091.1,1112.9 1094.3,1116.1 1097.6,1119.3 1100.8,1122.5 1104.0,1125.7 1107.3,1128.9 1110.5,1132.1 1113.7,1135.3 1116.9,1138.5 1120.2,1141.7 1123.4,1144.8 1126.6,1148.0 1129.9,1151.1 1133.1,1154.3 1136.3,1157.4 1139.6,1160.5 1142.8,1163.6 1146.0,1166.7 1149.3,1169.8 1152.5,1172.9 1155.7,1176.0 1159.0,1179.0 1162.2,1182.1 1165.4,1185.1 1168.7,1188.2 1171.9,1191.2 1175.1,1194.2 1178.3,1197.2 1181.6,1200.2 1184.8,1203.2 1188.0,1206.2 1191.3,1209.2 1194.5,1212.2 1197.7,1215.1 1201.0,1218.1 1204.2,1221.0 1207.4,1223.9 1210.7,1226.8 1213.9,1229.7 1217.1,1232.6 1220.4,1235.5 1223.6,1238.4 1226.8,1241.2 1230.0,1244.1 1233.3,1246.9 1236.5,1249.7 1239.7,1252.5 1243.0,1255.3 1246.2,1258.0 1249.4,1260.8 1252.7,1263.5 1255.9,1266.2 1259.1,1268.9 1262.4,1271.6 1265.6,1274.3 1268.8,1276.9 1272.1,1279.6 1275.3,1282.2 1278.5,1284.8 1281.8,1287.4 1285.0,1289.9 1288.2,1292.5 1291.4,1295.0 1294.7,1297.5 1297.9,1300.0 1301.1,1302.5 1304.4,1305.0 1307.6,1307.4 1310.8,1309.8 1314.1,1312.2 1317.3,1314.6 1320.5,1317.0 1323.8,1319.3 1327.0,1321.6 1330.2,1324.0 1333.5,1326.3 1336.7,1328.5 1339.9,1330.8 1343.1,1333.0 1346.4,1335.3 1349.6,1337.5 1352.8,1339.7 1356.1,1341.9 1359.3,1344.0 1362.5,1346.2 1365.8,1348.3 1369.0,1350.4 1372.2,1352.5 1375.5,1354.6 1378.7,1356.7 1381.9,1358.7 1385.2,1360.7 1388.4,1362.8 1391.6,1364.8 1394.9,1366.8 1398.1,1368.8 1401.3,1370.7 1404.5,1372.7 1407.8,1374.6 1411.0,1376.6 1414.2,1378.5 1417.5,1380.4 1420.7,1382.3 1423.9,1384.2 1427.2,1386.1 1430.4,1388.0 1433.6,1389.9 1436.9,1391.7 1440.1,1393.6 1443.3,1395.4 1446.6,1397.3 1449.8,1399.1 1453.0,1400.9 1456.2,1402.7 1459.5,1404.5 1462.7,1406.3 1465.9,1408.1 1469.2,1409.9 1472.4,1411.7 1475.6,1413.5 1478.9,1415.2 1482.1,1416.9 1485.3,1418.7 1488.6,1420.4 1491.8,1422.1 1495.0,1423.8 1498.3,1425.4 1501.5,1427.1 1504.7,1428.7 1508.0,1430.4 1511.2,1432.0 1514.4,1433.6 1517.6,1435.2 1520.9,1436.8 1524.1,1438.3 1527.3,1439.9 1530.6,1441.4 1533.8,1442.9 1537.0,1444.4 1540.3,1445.9 1543.5,1447.4 1546.7,1448.8 1550.0,1450.3 1553.2,1451.7 1556.4,1453.1 1559.7,1454.5 1562.9,1455.9 1566.1,1457.2 1569.3,1458.6 1572.6,1459.9 1575.8,1461.2 1579.0,1462.5 1582.3,1463.8 1585.5,1465.0 1588.7,1466.3 1592.0,1467.5 1595.2,1468.7 1598.4,1469.8 1601.7,1471.0 1604.9,1472.1 1608.1,1473.3 1611.4,1474.4 1614.6,1475.4 1617.8,1476.5 1621.1,1477.5 1624.3,1478.5 1627.5,1479.5 1630.7,1480.4 1634.0,1481.4 1637.2,1482.3 1640.4,1483.2 1643.7,1484.0 1646.9,1484.9 1650.1,1485.7 1653.4,1486.5 1656.6,1487.3 1659.8,1488.0 1663.1,1488.8 1666.3,1489.5 1669.5,1490.2 1672.8,1490.8 1676.0,1491.5 1679.2,1492.1 1682.4,1492.7 1685.7,1493.3 1688.9,1493.9 1692.1,1494.5 1695.4,1495.0 1698.6,1495.6 1701.8,1496.1 1705.1,1496.6 1708.3,1497.1 1711.5,1497.6 1714.8,1498.1 1718.0,1498.6 1721.2,1499.0 1724.5,1499.4 1727.7,1499.9 1730.9,1500.3 1734.2,1500.7 1737.4,1501.1 1740.6,1501.5 1743.8,1501.8 1747.1,1502.2 1750.3,1502.5 1753.5,1502.9 1756.8,1503.2 1760.0,1503.5 1763.2,1503.8 1766.5,1504.1 1769.7,1504.4 1772.9,1504.7 1776.2,1504.9 1779.4,1505.2 1782.6,1505.4 1785.9,1505.6 1789.1,1505.8 1792.3,1506.0 1795.5,1506.2 1798.8,1506.4 1802.0,1506.6 1805.2,1506.7 1808.5,1506.9 1811.7,1507.0 1814.9,1507.1 1818.2,1507.2 1821.4,1507.3 1824.6,1507.4 1827.9,1507.4 1831.1,1507.5 1834.3,1507.5 1837.6,1507.5 1840.8,1507.5 1844.0,1507.5 1847.2,1507.4 1850.5,1507.4 1853.7,1507.3 1856.9,1507.2 1860.2,1507.1 1863.4,1507.0 1866.6,1506.8 1869.9,1506.7 1873.1,1506.5 1876.3,1506.3 1879.6,1506.1 1882.8,1505.9 1886.0,1505.6 1889.3,1505.4 1892.5,1505.1 1895.7,1504.8 1899.0,1504.5 1902.2,1504.2 1905.4,1503.8 1908.6,1503.5 1911.9,1503.1 1915.1,1502.7 1918.3,1502.3 1921.6,1501.9 1924.8,1501.5 1928.0,1501.0 1931.3,1500.5 1934.5,1500.1 1937.7,1499.6 1941.0,1499.1 1944.2,1498.6 1947.4,1498.0 1950.7,1497.5 1953.9,1496.9 1957.1,1496.4 1960.3,1495.8 1963.6,1495.2 1966.8,1494.6 1970.0,1494.0 1973.3,1493.3 1976.5,1492.7 1979.7,1492.0 1983.0,1491.4 1986.2,1490.7 1989.4,1490.0 1992.7,1489.3 1995.9,1488.6 1999.1,1487.8 2002.4,1487.1 2005.6,1486.3 2008.8,1485.5 2012.1,1484.7 2015.3,1483.9 2018.5,1483.1 2021.7,1482.3 2025.0,1481.4 2028.2,1480.6 2031.4,1479.7 2034.7,1478.8 2037.9,1477.9 2041.1,1477.0 2044.4,1476.0 2047.6,1475.1 2050.8,1474.1 2054.1,1473.1 2057.3,1472.1 2060.5,1471.1 2063.8,1470.1 2067.0,1469.0 2070.2,1468.0 2073.4,1466.9 2076.7,1465.8 2079.9,1464.7 2083.1,1463.5 2086.4,1462.4 2089.6,1461.2 2092.8,1460.0 2096.1,1458.9 2099.3,1457.6 2102.5,1456.4 2105.8,1455.2 2109.0,1453.9 2112.2,1452.7 2115.5,1451.4 2118.7,1450.1 2121.9,1448.8 2125.2,1447.5 2128.4,1446.1 2131.6,1444.8 2134.8,1443.4 2138.1,1442.0 2141.3,1440.7 2144.5,1439.2 2147.8,1437.8 2151.0,1436.4 2154.2,1434.9 2157.5,1433.4 2160.7,1432.0 2163.9,1430.4 2167.2,1428.9 2170.4,1427.4 2173.6,1425.8 2176.9,1424.3 2180.1,1422.7 2183.3,1421.1 2186.5,1419.4 2189.8,1417.8 2193.0,1416.1 2196.2,1414.5 2199.5,1412.8 2202.7,1411.0 2205.9,1409.3 2209.2,1407.6 2212.4,1405.8 2215.6,1404.0 2218.9,1402.2 2222.1,1400.4 2225.3,1398.6 2228.6,1396.8 2231.8,1394.9 2235.0,1393.0" stroke="#0000FF"/>
<polyline points="299.4,289.3 302.6,291.7 305.9,294.0 309.1,296.4 312.3,298.7 315.6,301.1 318.8,303.5 322.0,305.8 325.3,308.2 328.5,310.6 331.7,312.9 334.9,315.3 338.2,317.7 341.4,320.1 344.6,322.5 347.9,324.9 351.1,327.3 354.3,329.7 357.6,332.2 360.8,334.6 364.0,337.0 367.3,339.5 370.5,341.9 373.7,344.4 377.0,346.9 380.2,349.4 383.4,351.9 386.6,354.4 389.9,356.9 393.1,359.4 396.3,361.9 399.6,364.5 402.8,367.0 406.0,369.6 409.3,372.1 412.5,374.7 415.7,377.3 419.0,379.9 422.2,382.5 425.4,385.1 428.7,387.7 431.9,390.3 435.1,392.9 438.4,395.6 441.6,398.2 444.8,400.9 448.0,403.5 451.3,406.2 454.5,408.9 457.7,411.6 461.0,414.3 464.2,417.0 467.4,419.7 470.7,422.4 473.9,425.2 477.1,427.9 480.4,430.6 483.6,433.4 486.8,436.2 490.1,438.9 493.3,441.7 496.5,444.5 499.7,447.3 503.0,450.1 506.2,453.0 509.4,455.8 512.7,458.6 515.9,461.5 519.1,464.3 522.4,467.2 525.6,470.1 528.8,472.9 532.1,475.8 535.3,478.7 538.5,481.6 541.8,484.5 545.0,487.5 548.2,490.4 551.5,493.3 554.7,496.3 557.9,499.3 561.1,502.2 564.4,505.2 567.6,508.2 570.8,511.2 574.1,514.2 577.3,517.2 580.5,520.2 583.8,523.2 587.0,526.3 590.2,529.3 593.5,532.4 596.7,535.4 599.9,538.5 603.2,541.6 606.4,544.7 609.6,547.8 612.8,550.9 616.1,554.0 619.3,557.1 622.5,560.3 625.8,563.4 629.0,566.6 632.2,569.7 635.5,572.9 638.7,576.1 641.9,579.3 645.2,582.5 648.4,585.7 651.6,588.9 654.9,592.1 658.1,595.3 661.3,598.6 664.6,601.8 667.8,605.1 671.0,608.3 674.2,611.6 677.5,614.9 680.7,618.2 683.9,621.5 687.2,624.8 690.4,628.1 693.6,631.4 696.9,634.7 700.1,638.0 703.3,641.4 706.6,644.7 709.8,648.1 713.0,651.4 716.3,654.8 719.5,658.2 722.7,661.5 725.9,664.9 729.2,668.3 732.4,671.7 735.6,675.1 738.9,678.5 742.1,681.9 745.3,685.3 748.6,688.7 751.8,692.1 755.0,695.5 758.3,699.0 761.5,702.4 764.7,705.8 768.0,709.3 771.2,712.7 774.4,716.2 777.7,719.6 780.9,723.0 784.1,726.5 787.3,730.0 790.6,733.4 793.8,736.9 797.0,740.3 800.3,743.8 803.5,747.2 806.7,750.7 810.0,754.2 813.2,757.6 816.4,761.1 819.7,764.6 822.9,768.0 826.1,771.5 829.4,775.0 832.6,778.4 835.8,781.9 839.0,785.4 842.3,788.8 845.5,792.3 848.7,795.8 852.0,799.2 855.2,802.7 858.4,806.2 861.7,809.6 864.9,813.1 868.1,816.5 871.4,820.0 874.6,823.5 877.8,826.9 881.1,830.4 884.3,833.8 887.5,837.3 890.7,840.8 894.0,844.2 897.2,847.7 900.4,851.2 903.7,854.7 906.9,858.1 910.1,861.6 913.4,865.1 916.6,868.6 919.8,872.1 923.1,875.6 926.3,879.1 929.5,882.6 932.8,886.1 936.0,889.6 939.2,893.2 942.5,896.7 945.7,900.2 948.9,903.8 952.1,907.3 955.4,910.9 958.6,914.4 961.8,918.0 965.1,921.5 968.3,925.1 971.5,928.7 974.8,932.2 978.0,935.8 981.2,939.4 984.5,943.0 987.7,946.5 990.9,950.1 994.2,953.7 997.4,957.2 1000.6,960.8 1003.8,964.4 1007.1,967.9 1010.3,971.5 1013.5,975.0 1016.8,978.6 1020.0,982.1 1023.2,985.7 1026.5,989.2 1029.7,992.7 1032.9,996.3 1036.2,999.8 1039.4,1003.3 1042.6,1006.8 1045.9,1010.3 1049.1,1013.7 1052.3,1017.2 1055.6,1020.7 1058.8,1024.2 1062.0,1027.6 1065.2,1031.0 1068.5,1034.5 1071.7,1037.9 1074.9,1041.3 1078.2,1044.8 1081.4,1048.2 1084.6,1051.6 1087.9,1054.9 1091.1,1058.3 1094.3,1061.7 1097.6,1065.1 1100.8,1068.4 1104.0,1071.8 1107.3,1075.1 1110.5,1078.5 1113.7,1081.8 1116.9,1085.1 1120.2,1088.4 1123.4,1091.7 1126.6,1095.0 1129.9,1098.3 1133.1,1101.6 1136.3,1104.9 1139.6,1108.1 1142.8,1111.4 1146.0,1114.6 1149.3,1117.9 1152.5,1121.1 1155.7,1124.3 1159.0,1127.5 1162.2,1130.7 1165.4,1133.9 1168.7,1137.1 1171.9,1140.3 1175.1,1143.4 1178.3,1146.6 1181.6,1149.8 1184.8,1152.9 1188.0,1156.0 1191.3,1159.1 1194.5,1162.3 1197.7,1165.4 1201.0,1168.5 1204.2,1171.5 1207.4,1174.6 1210.7,1177.7 1213.9,1180.7 1217.1,1183.8 1220.4,1186.8 1223.6,1189.8 1226.8,1192.9 1230.0,1195.9 1233.3,1198.9 1236.5,1201.8 1239.7,1204.8 1243.0,1207.8 1246.2,1210.7 1249.4,1213.7 1252.7,1216.6 1255.9,1219.5 1259.1,1222.4 1262.4,1225.3 1265.6,1228.2 1268.8,1231.1 1272.1,1233.9 1275.3,1236.8 1278.5,1239.6 1281.8,1242.4 1285.0,1245.2 1288.2,1248.0 1291.4,1250.8 1294.7,1253.6 1297.9,1256.3 1301.1,1259.1 1304.4,1261.8 1307.6,1264.5 1310.8,1267.2 1314.1,1269.8 1317.3,1272.5 1320.5,1275.1 1323.8,1277.8 1327.0,1280.4 1330.2,1283.0 1333.5,1285.5 1336.7,1288.1 1339.9,1290.6 1343.1,1293.2 1346.4,1295.7 1349.6,1298.2 1352.8,1300.7 1356.1,1303.1 1359.3,1305.6 1362.5,1308.0 1365.8,1310.4 1369.0,1312.8 1372.2,1315.1 1375.5,1317.5 1378.7,1319.8 1381.9,1322.1 1385.2,1324.4 1388.4,1326.7 1391.6,1329.0 1394.9,1331.2 1398.1,1333.5 1401.3,1335.7 1404.5,1337.9 1407.8,1340.1 1411.0,1342.2 1414.2,1344.4 1417.5,1346.5 1420.7,1348.7 1423.9,1350.8 1427.2,1352.9 1430.4,1355.0 1433.6,1357.0 1436.9,1359.1 1440.1,1361.2 1443.3,1363.2 1446.6,1365.2 1449.8,1367.2 1453.0,1369.3 1456.2,1371.3 1459.5,1373.2 1462.7,1375.2 1465.9,1377.2 1469.2,1379.2 1472.4,1381.1 1475.6,1383.1 1478.9,1385.0 1482.1,1386.9 1485.3,1388.8 1488.6,1390.8 1491.8,1392.7 1495.0,1394.6 1498.3,1396.5 1501.5,1398.3 1504.7,1400.2 1508.0,1402.1 1511.2,1404.0 1514.4,1405.8 1517.6,1407.7 1520.9,1409.5 1524.1,1411.3 1527.3,1413.2 1530.6,1415.0 1533.8,1416.8 1537.0,1418.5 1540.3,1420.3 1543.5,1422.1 1546.7,1423.8 1550.0,1425.5 1553.2,1427.2 1556.4,1428.9 1559.7,1430.5 1562.9,1432.2 1566.1,1433.8 1569.3,1435.4 1572.6,1437.0 1575.8,1438.5 1579.0,1440.1 1582.3,1441.6 1585.5,1443.1 1588.7,1444.6 1592.0,1446.1 1595.2,1447.5 1598.4,1448.9 1601.7,1450.3 1604.9,1451.7 1608.1,1453.1 1611.4,1454.4 1614.6,1455.7 1617.8,1457.0 1621.1,1458.3 1624.3,1459.6 1627.5,1460.8 1630.7,1462.0 1634.0,1463.2 1637.2,1464.4 1640.4,1465.6 1643.7,1466.7 1646.9,1467.8 1650.1,1468.9 1653.4,1470.0 1656.6,1471.0 1659.8,1472.0 1663.1,1473.0 1666.3,1474.0 1669.5,1475.0 1672.8,1476.0 1676.0,1476.9 1679.2,1477.8 1682.4,1478.7 1685.7,1479.6 1688.9,1480.5 1692.1,1481.3 1695.4,1482.2 1698.6,1483.0 1701.8,1483.8 1705.1,1484.6 1708.3,1485.4 1711.5,1486.2 1714.8,1487.0 1718.0,1487.7 1721.2,1488.5 1724.5,1489.2 1727.7,1489.9 1730.9,1490.6 1734.2,1491.3 1737.4,1492.0 1740.6,1492.7 1743.8,1493.3 1747.1,1493.9 1750.3,1494.6 1753.5,1495.2 1756.8,1495.8 1760.0,1496.3 1763.2,1496.9 1766.5,1497.4 1769.7,1498.0 1772.9,1498.5 1776.2,1499.0 1779.4,1499.5 1782.6,1500.0 1785.9,1500.4 1789.1,1500.9 1792.3,1501.3 1795.5,1501.7 1798.8,1502.1 1802.0,1502.5 1805.2,1502.9 1808.5,1503.3 1811.7,1503.6 1814.9,1503.9 1818.2,1504.3 1821.4,1504.6 1824.6,1504.9 1827.9,1505.1 1831.1,1505.4 1834.3,1505.6 1837.6,1505.9 1840.8,1506.1 1844.0,1506.3 1847.2,1506.5 1850.5,1506.7 1853.7,1506.8 1856.9,1506.9 1860.2,1507.1 1863.4,1507.2 1866.6,1507.3 1869.9,1507.3 1873.1,1507.4 1876.3,1507.5 1879.6,1507.5 1882.8,1507.5 1886.0,1507.5 1889.3,1507.5 1892.5,1507.4 1895.7,1507.4 1899.0,1507.3 1902.2,1507.3 1905.4,1507.2 1908.6,1507.0 1911.9,1506.9 1915.1,1506.8 1918.3,1506.6 1921.6,1506.4 1924.8,1506.3 1928.0,1506.1 1931.3,1505.8 1934.5,1505.6 1937.7,1505.4 1941.0,1505.1 1944.2,1504.9 1947.4,1504.6 1950.7,1504.3 1953.9,1504.0 1957.1,1503.6 1960.3,1503.3 1963.6,1503.0 1966.8,1502.6 1970.0,1502.2 1973.3,1501.9 1976.5,1501.5 1979.7,1501.1 1983.0,1500.7 1986.2,1500.3 1989.4,1499.8 1992.7,1499.4 1995.9,1498.9 1999.1,1498.5 2002.4,1498.0 2005.6,1497.5 2008.8,1497.0 2012.1,1496.5 2015.3,1496.0 2018.5,1495.5 2021.7,1495.0 2025.0,1494.5 2028.2,1493.9 2031.4,1493.4 2034.7,1492.8 2037.9,1492.2 2041.1,1491.6 2044.4,1491.0 2047.6,1490.4 2050.8,1489.7 2054.1,1489.1 2057.3,1488.4 2060.5,1487.7 2063.8,1487.1 2067.0,1486.3 2070.2,1485.6 2073.4,1484.9 2076.7,1484.1 2079.9,1483.3 2083.1,1482.5 2086.4,1481.7 2089.6,1480.9 2092.8,1480.0 2096.1,1479.1 2099.3,1478.2 2102.5,1477.3 2105.8,1476.3 2109.0,1475.4 2112.2,1474.4 2115.5,1473.4 2118.7,1472.4 2121.9,1471.3 2125.2,1470.2 2128.4,1469.2 2131.6,1468.0 2134.8,1466.9 2138.1,1465.8 2141.3,1464.6 2144.5,1463.4 2147.8,1462.2 2151.0,1461.0 2154.2,1459.7 2157.5,1458.4 2160.7,1457.1 2163.9,1455.8 2167.2,1454.5 2170.4,1453.1 2173.6,1451.8 2176.9,1450.4 2180.1,1449.0 2183.3,1447.5 2186.5,1446.1 2189.8,1444.6 2193.0,1443.1 2196.2,1441.6 2199.5,1440.1 2202.7,1438.5 2205.9,1437.0 2209.2,1435.4 2212.4,1433.8 2215.6,1432.1 2218.9,1430.5 2222.1,1428.8 2225.3,1427.2 2228.6,1425.5 2231.8,1423.7 2235.0,1422.0" stroke="#FF0000"/>
</g>
<rect x="1260.0" y="493.5" width="397.2" height="299.7" fill="#fff" stroke="#000" stroke-width="6.5"/>
<path d="M1289.8 493.5V499.1 M1289.8 793.2V787.6 M1460.9 493.5V499.1 M1460.9 793.2V787.6 M1632.0 493.5V499.1 M1632.0 793.2V787.6 M1375.3 493.5V496.9 M1375.3 793.2V789.8000000000001 M1546.5 493.5V496.9 M1546.5 793.2V789.8000000000001 M1260.0 693.3H1265.6 M1657.2 693.3H1651.6000000000001 M1260.0 593.4H1265.6 M1657.2 593.4H1651.6000000000001 M1260.0 743.2H1263.4 M1657.2 743.2H1653.8 M1260.0 643.3H1263.4 M1657.2 643.3H1653.8 M1260.0 543.5H1263.4 M1657.2 543.5H1653.8" stroke="#000" stroke-width="6.4" stroke-linecap="round" fill="none"/>
<line x1="1263.0" y1="579.6" x2="1632" y2="695.2" stroke="#FF0000" stroke-width="7.3" stroke-linecap="round"/>
<line x1="1263.0" y1="632.4" x2="1632" y2="751.8" stroke="#0000FF" stroke-width="7.3" stroke-linecap="round"/>
<line x1="1260.0" y1="490.25" x2="1260.0" y2="796.45" stroke="#000" stroke-width="6.5"/>
<text transform="translate(1195.15,804.90) scale(0.9999,1)" font-family="'Liberation Sans', Arial, sans-serif" font-size="41.49" stroke="#000" stroke-width="1.2">6.6</text>
<text transform="translate(1195.42,705.00) scale(0.9999,1)" font-family="'Liberation Sans', Arial, sans-serif" font-size="41.49" stroke="#000" stroke-width="1.2">6.7</text>
<text transform="translate(1195.13,605.10) scale(0.9999,1)" font-family="'Liberation Sans', Arial, sans-serif" font-size="41.49" stroke="#000" stroke-width="1.2">6.8</text>
<text transform="translate(1195.29,505.20) scale(0.9999,1)" font-family="'Liberation Sans', Arial, sans-serif" font-size="41.49" stroke="#000" stroke-width="1.2">6.9</text>
<text transform="translate(1255.57,848.70) scale(0.9999,1)" font-family="'Liberation Sans', Arial, sans-serif" font-size="41.49" stroke="#000" stroke-width="1.2">560</text>
<text transform="translate(1426.67,848.70) scale(0.9999,1)" font-family="'Liberation Sans', Arial, sans-serif" font-size="41.49" stroke="#000" stroke-width="1.2">580</text>
<text transform="translate(1597.55,848.70) scale(0.9999,1)" font-family="'Liberation Sans', Arial, sans-serif" font-size="41.49" stroke="#000" stroke-width="1.2">600</text>
<line x1="513" y1="212.8" x2="666.1" y2="112.5" stroke="#000" stroke-width="5.4"/>
<polygon points="682,102.1 665.3,122.2 661.9,115.3 656.9,109.4" fill="#000"/>
<line x1="424.3" y1="695.5" x2="689.3" y2="527.3" stroke="#000" stroke-width="5.4"/>
<polygon points="707,516 688.1,536.6 685.1,529.9 680.3,524.4" fill="#000"/>
<text transform="translate(699.59,106.40) scale(1.0000,1)" font-family="'Liberation Sans', Arial, sans-serif" font-size="64.69" stroke="#000" stroke-width="1.2">P</text>
<text transform="translate(741.50,130.30) scale(1.0461,1)" font-family="'Liberation Sans', Arial, sans-serif" font-size="36.09" stroke="#000" stroke-width="1.2">2</text>
<text transform="translate(762.58,106.40) scale(0.9549,1)" font-family="'Liberation Sans', Arial, sans-serif" font-size="64.69" stroke="#000" stroke-width="1.2">=0</text>
<text transform="translate(583.29,495.00) scale(1.0000,1)" font-family="'Liberation Sans', Arial, sans-serif" font-size="64.69" stroke="#000" stroke-width="1.2">P</text>
<text transform="translate(625.72,520.30) scale(1.0340,1)" font-family="'Liberation Sans', Arial, sans-serif" font-size="36.09" stroke="#000" stroke-width="1.2">2</text>
<clipPath id="c1f4" clipPathUnits="userSpaceOnUse"><path clip-rule="evenodd" d="M-50 -200H195.7V60H-50Z M39.20 -7.03H53.35V4H39.20Z M60.46 -7.03H74.10V4H60.46Z"/></clipPath>
<text transform="translate(646.60,495.00) scale(0.9484,1)" font-family="'Liberation Sans', Arial, sans-serif" font-size="64.69" stroke="#000" stroke-width="1.2" clip-path="url(#c1f4)">=100</text>
<line x1="323.5" y1="1232.5" x2="441.5" y2="1232.5" stroke="#000000" stroke-width="6.6" stroke-linecap="round"/>
<line x1="323.5" y1="1303.5" x2="441.5" y2="1303.5" stroke="#00FF00" stroke-width="6.6" stroke-linecap="round"/>
<line x1="323.5" y1="1373.9" x2="441.5" y2="1373.9" stroke="#0000FF" stroke-width="6.6" stroke-linecap="round"/>
<line x1="323.5" y1="1444.4" x2="441.5" y2="1444.4" stroke="#FF0000" stroke-width="6.6" stroke-linecap="round"/>
<text transform="translate(456.11,1251.20) scale(0.9971,1)" font-family="'Liberation Sans', Arial, sans-serif" font-size="45.99" stroke="#000" stroke-width="1.2">ϕ</text>
<clipPath id="c1f5" clipPathUnits="userSpaceOnUse"><path clip-rule="evenodd" d="M-50 -200H66.6V60H-50Z M-0.96 -4.43H6.79V4H-0.96Z M10.82 -4.43H18.35V4H10.82Z"/></clipPath>
<text transform="translate(481.28,1271.90) scale(1.0000,1)" font-family="'Liberation Sans', Arial, sans-serif" font-size="29.79" stroke="#000" stroke-width="1.2" clip-path="url(#c1f5)">1</text>
<text transform="translate(496.71,1251.20) scale(0.9525,1)" font-family="'Liberation Sans', Arial, sans-serif" font-size="53.59" stroke="#000" stroke-width="1.2">=</text>
<text transform="translate(527.10,1251.20) scale(1.0016,1)" font-family="'Liberation Sans', Arial, sans-serif" font-size="45.99" stroke="#000" stroke-width="1.2">ϕ</text>
<text transform="translate(550.31,1271.90) scale(1.0611,1)" font-family="'Liberation Sans', Arial, sans-serif" font-size="29.79" stroke="#000" stroke-width="1.2">2</text>
<text transform="translate(568.30,1251.20) scale(0.9569,1)" font-family="'Liberation Sans', Arial, sans-serif" font-size="53.59" stroke="#000" stroke-width="1.2">=0,</text>
<text transform="translate(643.21,1251.20) scale(0.9521,1)" font-family="'Liberation Sans', Arial, sans-serif" font-size="53.59" stroke="#000" stroke-width="1.2">H</text>
<text transform="translate(679.84,1271.90) scale(1.1053,1)" font-family="'Liberation Sans', Arial, sans-serif" font-size="29.79" stroke="#000" stroke-width="1.2">2</text>
<text transform="translate(697.42,1251.20) scale(0.9759,1)" font-family="'Liberation Sans', Arial, sans-serif" font-size="53.59" stroke="#000" stroke-width="1.2">O</text>
<text transform="translate(456.02,1321.80) scale(0.9881,1)" font-family="'Liberation Sans', Arial, sans-serif" font-size="45.99" stroke="#000" stroke-width="1.2">ϕ</text>
<clipPath id="c1f6" clipPathUnits="userSpaceOnUse"><path clip-rule="evenodd" d="M-50 -200H66.6V60H-50Z M-0.96 -4.43H6.79V4H-0.96Z M10.82 -4.43H18.35V4H10.82Z"/></clipPath>
<text transform="translate(481.58,1342.50) scale(1.0000,1)" font-family="'Liberation Sans', Arial, sans-serif" font-size="29.79" stroke="#000" stroke-width="1.2" clip-path="url(#c1f6)">1</text>
<clipPath id="c1f7" clipPathUnits="userSpaceOnUse"><path clip-rule="evenodd" d="M-50 -200H170.7V60H-50Z M76.65 -6.20H88.76V4H76.65Z M94.90 -6.20H106.60V4H94.90Z"/></clipPath>
<text transform="translate(496.94,1321.80) scale(0.9784,1)" font-family="'Liberation Sans', Arial, sans-serif" font-size="53.59" stroke="#000" stroke-width="1.2" clip-path="url(#c1f7)">=0.1,</text>
<text transform="translate(615.33,1321.80) scale(0.9836,1)" font-family="'Liberation Sans', Arial, sans-serif" font-size="45.99" stroke="#000" stroke-width="1.2">ϕ</text>
<text transform="translate(638.50,1342.50) scale(1.0684,1)" font-family="'Liberation Sans', Arial, sans-serif" font-size="29.79" stroke="#000" stroke-width="1.2">2</text>
<text transform="translate(656.05,1321.80) scale(0.9735,1)" font-family="'Liberation Sans', Arial, sans-serif" font-size="53.59" stroke="#000" stroke-width="1.2">=0, I</text>
<text transform="translate(456.02,1392.50) scale(0.9881,1)" font-family="'Liberation Sans', Arial, sans-serif" font-size="45.99" stroke="#000" stroke-width="1.2">ϕ</text>
<clipPath id="c1f8" clipPathUnits="userSpaceOnUse"><path clip-rule="evenodd" d="M-50 -200H66.6V60H-50Z M-0.96 -4.43H6.79V4H-0.96Z M10.82 -4.43H18.35V4H10.82Z"/></clipPath>
<text transform="translate(481.58,1413.20) scale(1.0000,1)" font-family="'Liberation Sans', Arial, sans-serif" font-size="29.79" stroke="#000" stroke-width="1.2" clip-path="url(#c1f8)">1</text>
<text transform="translate(497.02,1392.50) scale(0.9487,1)" font-family="'Liberation Sans', Arial, sans-serif" font-size="53.59" stroke="#000" stroke-width="1.2">=</text>
<text transform="translate(527.27,1392.50) scale(0.9655,1)" font-family="'Liberation Sans', Arial, sans-serif" font-size="45.99" stroke="#000" stroke-width="1.2">ϕ</text>
<text transform="translate(550.38,1413.20) scale(1.0832,1)" font-family="'Liberation Sans', Arial, sans-serif" font-size="29.79" stroke="#000" stroke-width="1.2">2</text>
<clipPath id="c1f9" clipPathUnits="userSpaceOnUse"><path clip-rule="evenodd" d="M-50 -200H215.3V60H-50Z M76.65 -6.20H88.76V4H76.65Z M94.90 -6.20H106.60V4H94.90Z"/></clipPath>
<text transform="translate(567.93,1392.50) scale(0.9830,1)" font-family="'Liberation Sans', Arial, sans-serif" font-size="53.59" stroke="#000" stroke-width="1.2" clip-path="url(#c1f9)">=0.1, II</text>
<text transform="translate(456.02,1461.90) scale(0.9881,1)" font-family="'Liberation Sans', Arial, sans-serif" font-size="45.99" stroke="#000" stroke-width="1.2">ϕ</text>
<clipPath id="c1f10" clipPathUnits="userSpaceOnUse"><path clip-rule="evenodd" d="M-50 -200H66.6V60H-50Z M-0.96 -4.43H6.79V4H-0.96Z M10.82 -4.43H18.35V4H10.82Z"/></clipPath>
<text transform="translate(481.58,1482.60) scale(1.0000,1)" font-family="'Liberation Sans', Arial, sans-serif" font-size="29.79" stroke="#000" stroke-width="1.2" clip-path="url(#c1f10)">1</text>
<text transform="translate(497.02,1461.90) scale(0.9487,1)" font-family="'Liberation Sans', Arial, sans-serif" font-size="53.59" stroke="#000" stroke-width="1.2">=</text>
<text transform="translate(527.27,1461.90) scale(0.9655,1)" font-family="'Liberation Sans', Arial, sans-serif" font-size="45.99" stroke="#000" stroke-width="1.2">ϕ</text>
<text transform="translate(550.38,1482.60) scale(1.0832,1)" font-family="'Liberation Sans', Arial, sans-serif" font-size="29.79" stroke="#000" stroke-width="1.2">2</text>
<clipPath id="c1f11" clipPathUnits="userSpaceOnUse"><path clip-rule="evenodd" d="M-50 -200H230.2V60H-50Z M76.65 -6.20H88.76V4H76.65Z M94.90 -6.20H106.60V4H94.90Z"/></clipPath>
<text transform="translate(567.93,1461.90) scale(0.9839,1)" font-family="'Liberation Sans', Arial, sans-serif" font-size="53.59" stroke="#000" stroke-width="1.2" clip-path="url(#c1f11)">=0.1, III</text>
<text transform="translate(1062.60,1696.50) scale(1.0123,1)" font-family="'Liberation Sans', Arial, sans-serif" font-size="69.79" stroke="#000" stroke-width="1.2">P</text>
<clipPath id="c1f12" clipPathUnits="userSpaceOnUse"><path clip-rule="evenodd" d="M-50 -200H72.6V60H-50Z M-0.22 -5.24H9.53V4H-0.22Z M14.53 -5.24H23.96V4H14.53Z"/></clipPath>
<text transform="translate(1110.07,1722.10) scale(1.0000,1)" font-family="'Liberation Sans', Arial, sans-serif" font-size="40.69" stroke="#000" stroke-width="1.2" clip-path="url(#c1f12)">1</text>
<text transform="translate(1130.76,1696.50) scale(0.9792,1)" font-family="'Liberation Sans', Arial, sans-serif" font-size="69.79" stroke="#000" stroke-width="1.2">=Grsin</text>
<text transform="translate(1332.40,1696.90) scale(0.9731,1)" font-family="'Liberation Serif', 'Times New Roman', serif" font-size="68.43" font-style="italic" stroke="#000" stroke-width="0.4">γ</text>
<text transform="translate(1359.90,1696.50) scale(0.9687,1)" font-family="'Liberation Sans', Arial, sans-serif" font-size="69.79" stroke="#000" stroke-width="1.2">/Re</text>
<text transform="translate(96.45,855.92) rotate(-90) scale(1.005,1)" font-family="'Liberation Sans', Arial, sans-serif" font-size="67.6" stroke="#000" stroke-width="1.2">Nu</text>
<line x1="27.5" y1="768.6" x2="27.5" y2="851" stroke="#000" stroke-width="7" stroke-linecap="round"/>
</svg></body></html>
